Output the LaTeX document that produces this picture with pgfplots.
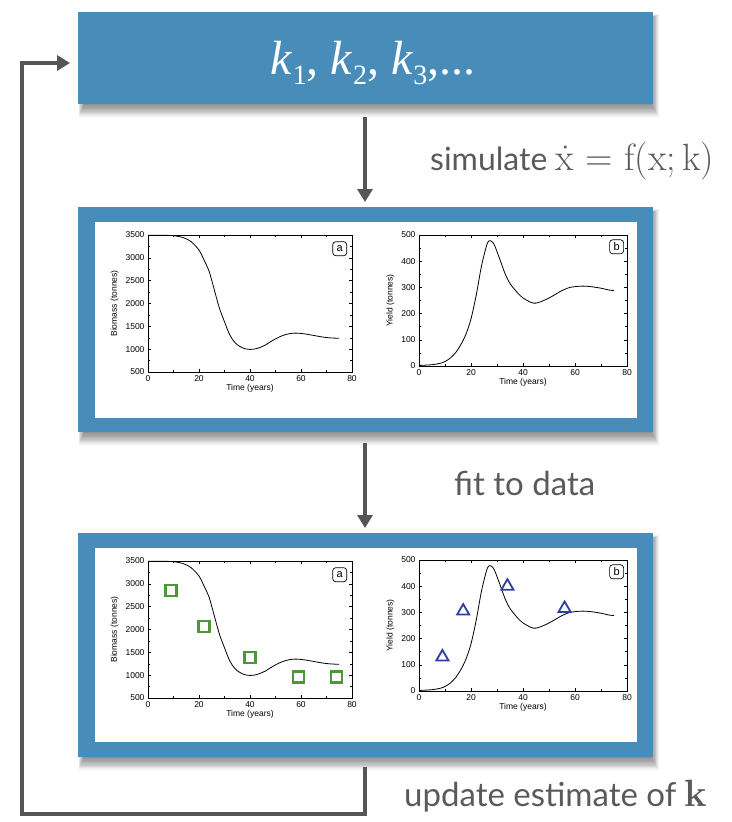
\documentclass[border=0pt]{standalone}
\usepackage{pgfplots}
\pgfplotsset{compat=1.18}
\usepackage{fontspec}
\usetikzlibrary{arrows.meta}
\newfontfamily\gill{Lato}
\newfontfamily\arial{Liberation Sans}
\newfontfamily\tnr{Liberation Serif}
\newfontfamily\lmr{Latin Modern Roman}
\definecolor{kblue}{RGB}{72,141,186}
\definecolor{arrgray}{RGB}{85,85,85}
\definecolor{txtgray}{RGB}{90,90,90}
\definecolor{mgreen}{RGB}{78,150,58}
\definecolor{mblue}{RGB}{46,63,160}
\tikzset{lbl/.style={draw, rounded corners=3pt, inner sep=2.2pt, minimum size=14pt, line width=0.7pt, font=\arial\fontsize{11}{12}\selectfont}}
\newcommand\softshadow[4]{%
  \foreach \d in {0,...,9}{%
    \fill[black, opacity=0.055] ({#1+6-\d*0.6},{#2+6-\d*0.4}) rectangle ({#3-2+\d*0.9},{#4+1+\d*1.3});
  }}
\newcommand\kk[1]{\itshape k\kern0.02em\raisebox{-0.22em}{\upshape\fontsize{28}{32}\selectfont #1}}
\pgfplotsset{
  minip/.style={
    scale only axis, xmin=0, xmax=80, xtick={0,20,...,80},
    minor x tick num=1, minor y tick num=1,
    tick align=inside, major tick length=3pt, minor tick length=2pt,
    tick style={black, line width=0.5pt},
    axis line style={line width=0.7pt},
    ticklabel style={font=\arial\fontsize{8.5}{9}\selectfont},
    label style={font=\arial\fontsize{8.5}{9}\selectfont},
    /pgf/number format/assume math mode=true,
    /pgf/number format/set thousands separator={},
    scaled ticks=false,
    xlabel={Time (years)},
    xlabel style={yshift=4pt},
    ylabel style={yshift=0pt},
    clip=false,
  },
  biom/.style={minip, width=204pt, height=137pt, ymin=500, ymax=3500,
    ytick={500,1000,...,3500}, ylabel={Biomass (tonnes)}},
  yld/.style={minip, width=208pt, height=131pt, ymin=0, ymax=500,
    ytick={0,100,...,500}, ylabel={Yield (tonnes)}},
}
\pgfplotstableread{
t B
0 3495
5 3495
10 3485
14 3440
17 3350
20 3170
22 2950
24 2700
26 2300
28 1900
30 1600
32 1320
34 1150
36 1060
38 1010
40 995
42 1005
44 1040
46 1090
48 1160
50 1225
52 1280
54 1320
56 1345
58 1352
60 1345
62 1330
64 1310
66 1290
68 1270
70 1255
72 1245
74 1240
75 1240
}\biomass
\pgfplotstableread{
t Y
0 2
5 5
8 10
10 17
12 30
14 50
16 80
18 120
20 180
22 270
24 380
26 460
27 478
28 475
29 462
31 410
33 355
35 315
38 278
40 260
43 243
45 240
48 250
51 265
55 288
58 300
60 303
63 305
66 303
70 297
73 290
75 288
}\yieldtab
\begin{document}
\begin{tikzpicture}
\begin{scope}[x=1pt,y=-1pt]
\path[use as bounding box] (0,0) rectangle (731,822);
% top box
\softshadow{78}{12}{653}{104}
\fill[kblue] (78,12) rectangle (653,104);
\node[white, font=\tnr\fontsize{48}{54}\selectfont] at (373,63) {{\kk{1}}, {\kk{2}}, {\kk{3}},...};
% arrow 1
\draw[arrgray, line width=4pt, -{Triangle[length=13pt,width=15pt]}] (365,117) -- (365,202);
\node[anchor=base west, txtgray, font=\gill\fontsize{32}{38}\selectfont, inner sep=0pt] at (430,170) {simulate {\lmr\fontsize{38}{42}\selectfont\.{x} = f(x;\,k)}};
% box 2
\softshadow{78}{207}{653}{432}
\fill[kblue] (78,207) rectangle (653,432);
\fill[white] (95,222) rectangle (637,418);
% arrow 2
\draw[arrgray, line width=4pt, -{Triangle[length=13pt,width=15pt]}] (365,443) -- (365,528);
\node[anchor=base west, txtgray, font=\gill\fontsize{33}{38}\selectfont, inner sep=0pt] at (454,495) {fit to data};
% box 3
\softshadow{78}{533}{653}{757}
\fill[kblue] (78,533) rectangle (653,757);
\fill[white] (95,548) rectangle (637,742);
% feedback
\draw[arrgray, line width=4pt, -{Triangle[length=13pt,width=15pt]}] (365,767) -- (365,814) -- (22,814) -- (22,63) -- (70,63);
\node[anchor=base west, txtgray, font=\gill\fontsize{33}{38}\selectfont, inner sep=0pt] at (404,806) {update estimate of {\lmr\bfseries\fontsize{38}{42}\selectfont k}};
\end{scope}
% top-left
\begin{axis}[biom, at={(148pt,-372pt)}, anchor=south west]
\addplot[black, line width=0.8pt, smooth] table[x=t,y=B] {\biomass};
\node[lbl] at (axis description cs:0.94,0.90) {a};
\end{axis}
% top-right
\begin{axis}[yld, at={(419pt,-366pt)}, anchor=south west]
\addplot[black, line width=0.8pt, smooth] table[x=t,y=Y] {\yieldtab};
\node[lbl] at (axis description cs:0.95,0.91) {b};
\end{axis}
% bottom-left
\begin{axis}[biom, at={(148pt,-698pt)}, anchor=south west]
\addplot[black, line width=0.8pt, smooth] table[x=t,y=B] {\biomass};
\addplot[only marks, mark=square, mark size=5.5pt, mgreen, line width=2.3pt] coordinates {(9,2850) (22,2070) (40,1380) (59,960) (74,960)};
\node[lbl] at (axis description cs:0.94,0.90) {a};
\end{axis}
% bottom-right
\begin{axis}[yld, at={(419pt,-691pt)}, anchor=south west]
\addplot[black, line width=0.8pt, smooth] table[x=t,y=Y] {\yieldtab};
\addplot[only marks, mark=triangle, mark size=7pt, mblue, line width=1.8pt] coordinates {(9,130) (17,305) (34,400) (56,315)};
\node[lbl] at (axis description cs:0.95,0.91) {b};
\end{axis}
\end{tikzpicture}
\end{document}
